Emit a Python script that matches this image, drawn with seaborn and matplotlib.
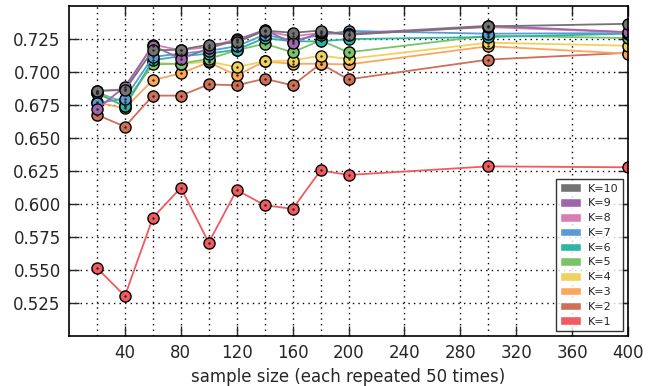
import matplotlib
matplotlib.use("Agg")
import matplotlib.pyplot as plt
from matplotlib.patches import Patch
from matplotlib.ticker import FixedLocator
import seaborn as sns
import pandas as pd

# ==============================
# DATA
# ==============================

sample_sizes = [20, 40, 60, 80, 100, 120, 140, 160, 180, 200, 300, 400]

k1 = [0.5515, 0.5303, 0.5896, 0.6123, 0.5708, 0.6106, 0.5991, 0.5963, 0.6254, 0.6220, 0.6285, 0.6278]
k2 = [0.6676, 0.6586, 0.6821, 0.6821, 0.6906, 0.6899, 0.6949, 0.6899, 0.7062, 0.6944, 0.7094, 0.7145]
k3 = [0.6770, 0.6725, 0.6939, 0.6989, 0.7074, 0.6974, 0.7080, 0.7062, 0.7062, 0.7057, 0.7195, 0.7139]
k4 = [0.6840, 0.6740, 0.7070, 0.7059, 0.7080, 0.7037, 0.7081, 0.7087, 0.7124, 0.7099, 0.7222, 0.7199]
k5 = [0.6845, 0.6770, 0.7057, 0.7064, 0.7099, 0.7165, 0.7214, 0.7149, 0.7240, 0.7149, 0.7275, 0.7257]
k6 = [0.6840, 0.6739, 0.7089, 0.7120, 0.7139, 0.7169, 0.7257, 0.7232, 0.7232, 0.7249, 0.7265, 0.7290]
k7 = [0.6764, 0.6799, 0.7114, 0.7140, 0.7160, 0.7195, 0.7282, 0.7240, 0.7280, 0.7311, 0.7290, 0.7295]
k8 = [0.6855, 0.6870, 0.7207, 0.7165, 0.7190, 0.7249, 0.7310, 0.7270, 0.7295, 0.7285, 0.7340, 0.7300]
k9 = [0.6719, 0.6889, 0.7200, 0.7099, 0.7180, 0.7240, 0.7320, 0.7219, 0.7300, 0.7290, 0.7350, 0.7302]
k10 = [0.6857, 0.6864, 0.7164, 0.7169, 0.7207, 0.7225, 0.7314, 0.7297, 0.7314, 0.7282, 0.7345, 0.7365]

labels = ["K=1", "K=2", "K=3", "K=4", "K=5", "K=6", "K=7", "K=8", "K=9", "K=10"]
series = [k1, k2, k3, k4, k5, k6, k7, k8, k9, k10]

colors = ["#F15A60", "#CE7058", "#FAA75B", "#F0D15E", "#7AC36A",
          "#2DB5A3", "#5A9BD4", "#D77FB4", "#9E67AB", "#737373"]

x_major = [40, 80, 120, 160, 200, 240, 280, 320, 360, 400]
x_minor = [20, 60, 100, 140, 180, 300]
y_ticks = [0.525, 0.550, 0.575, 0.600, 0.625, 0.650, 0.675, 0.700, 0.725]

# ==============================
# TABLE
# ==============================

rows = []
for label, values in zip(labels, series):
    for n, v in zip(sample_sizes, values):
        rows.append({"n": n, "acc": v, "K": label})
df = pd.DataFrame(rows)

palette = dict(zip(labels, colors))

# ==============================
# PLOT
# ==============================

sns.set_style("ticks")
plt.rcParams["font.family"] = ["DejaVu Sans"]

fig = plt.figure(figsize=(6.61, 3.86), dpi=100)
ax = fig.add_axes([0.1044, 0.1295, 0.8457, 0.855])

sns.lineplot(data=df, x="n", y="acc", hue="K", hue_order=labels, palette=palette,
             marker="o", markersize=8, markeredgecolor="black", markeredgewidth=1,
             linewidth=1.3, legend=False, ax=ax)
sns.scatterplot(data=df, x="n", y="acc", color="#222222", s=3, linewidth=0,
                legend=False, ax=ax, zorder=5)

ax.set_xlim(0, 400)
ax.set_ylim(0.5, 0.75)
ax.xaxis.set_major_locator(FixedLocator(x_major))
ax.xaxis.set_minor_locator(FixedLocator(x_minor))
ax.set_yticks(y_ticks)
ax.set_yticklabels([f"{t:.3f}" for t in y_ticks])

grid_style = dict(color="black", linestyle=(0, (1, 3)), linewidth=1)
ax.grid(True, which="both", axis="x", **grid_style)
ax.grid(True, which="major", axis="y", **grid_style)
ax.set_axisbelow(True)

ax.tick_params(direction="in", top=True, right=True, length=7, width=1, labelsize=12, pad=6)
ax.tick_params(which="minor", direction="in", top=True, bottom=True, length=0)
for s in ax.spines.values():
    s.set_linewidth(1.2)
    s.set_color("black")

ax.set_xlabel("sample size (each repeated 50 times)", fontsize=12)
ax.set_ylabel("")

handles = [Patch(facecolor=palette[l], edgecolor="white", label=l) for l in labels[::-1]]
leg = ax.legend(handles=handles, loc="lower right", fontsize=8, frameon=True,
                fancybox=False, borderaxespad=0.45, borderpad=0.4, handlelength=1.9,
                handleheight=0.8, handletextpad=0.6, labelspacing=0.42)
leg.get_frame().set_edgecolor("black")
leg.get_frame().set_linewidth(1)

fig.savefig("out.png", dpi=100)
